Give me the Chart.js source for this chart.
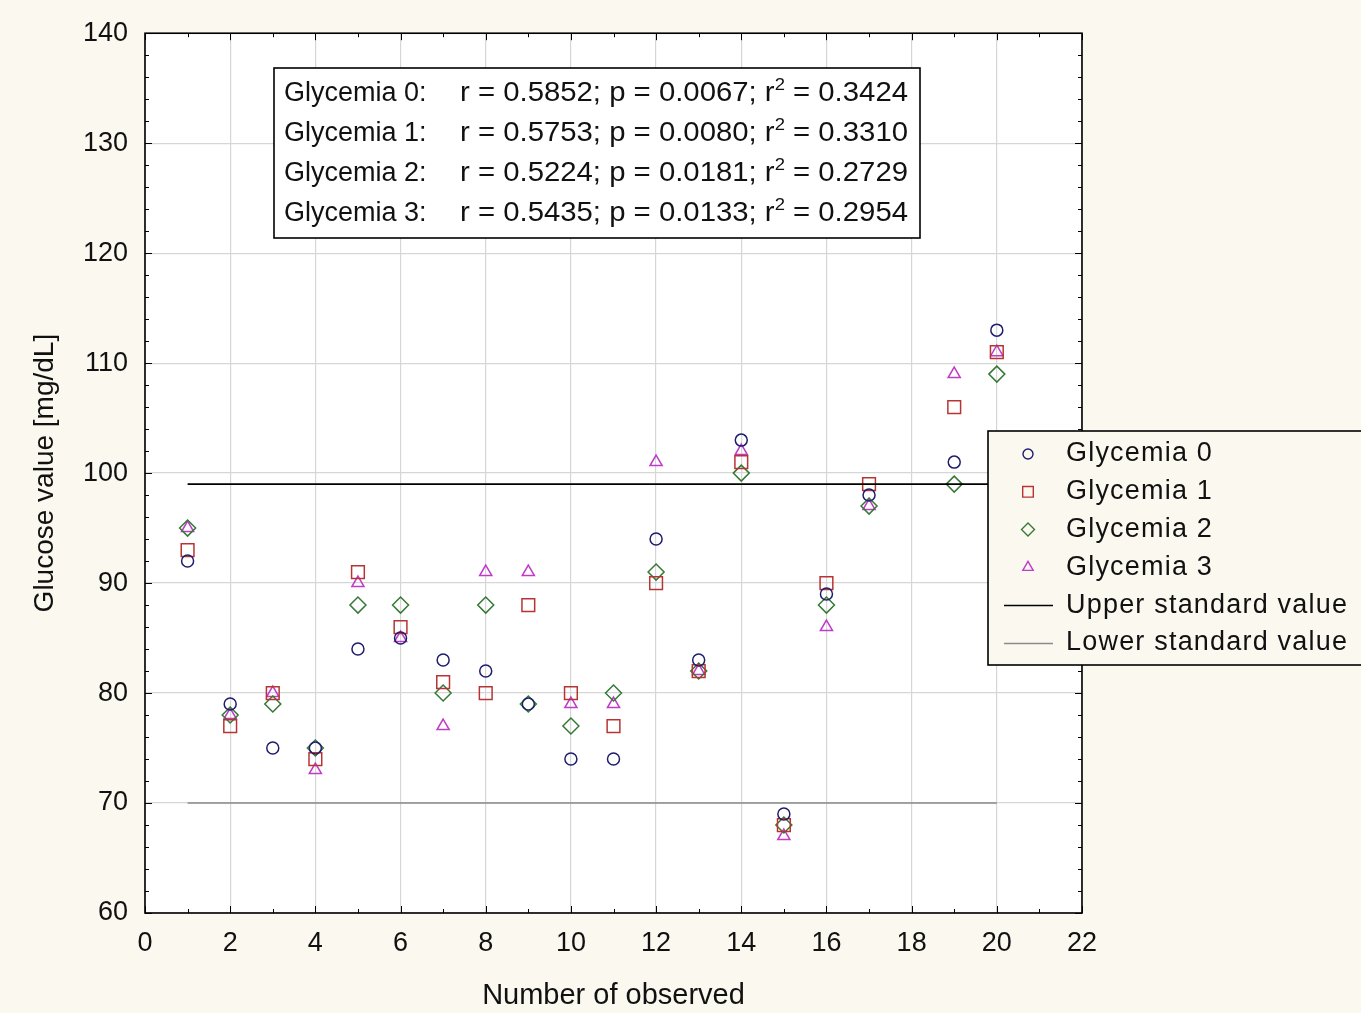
<!DOCTYPE html>
<html>
<head>
<meta charset="utf-8">
<script src="https://cdn.jsdelivr.net/npm/chart.js@4"></script>
<style>
  html, body { margin: 0; padding: 0; background: #fbf8f0; }
  #wrap { width: 1361px; height: 1013px; }
</style>
</head>
<body>
<div id="wrap"><canvas id="grafico" width="1361" height="1013"></canvas></div>
<script>
// observações (x) e valores de glicemia
const observacoes = [1, 2, 3, 4, 5, 6, 7, 8, 9, 10, 11, 12, 13, 14, 15, 16, 17, 19, 20];
const glicemia0 = [92, 79, 75, 75, 84, 85, 83, 82, 79, 74, 74, 94, 83, 103, 69, 89, 98, 101, 113];
const glicemia1 = [93, 77, 80, 74, 91, 86, 81, 80, 88, 80, 77, 90, 82, 101, 68, 90, 99, 106, 111];
const glicemia2 = [95, 78, 79, 75, 88, 88, 80, 88, 79, 77, 80, 91, 82, 100, 68, 88, 97, 99, 109];
const glicemia3 = [95, 78, 80, 73, 90, 85, 77, 91, 91, 79, 79, 101, 82, 102, 67, 86, 97, 109, 111];

// limites de referência
const limiteX = [1, 20];
const valorSuperior = 99;
const valorInferior = 70;

// estatísticas do quadro
const nomesSeries = ["Glycemia 0", "Glycemia 1", "Glycemia 2", "Glycemia 3"];
const valoresR = ["0.5852", "0.5753", "0.5224", "0.5435"];
const valoresP = ["0.0067", "0.0080", "0.0181", "0.0133"];
const valoresR2 = ["0.3424", "0.3310", "0.2729", "0.2954"];

const fonte = '"Liberation Sans", Arial, sans-serif';
const pontos = arr => observacoes.map((x, i) => ({ x: x, y: arr[i] }));
const linha = v => limiteX.map(x => ({ x: x, y: v }));

const estilos = [
  { cor: "#1e1e6e", forma: "circle", raio: 6, raioLegenda: 5 },
  { cor: "#b83434", forma: "rect", raio: 9, raioLegenda: 7.5 },
  { cor: "#347a34", forma: "rectRot", raio: 8, raioLegenda: 6.5 },
  { cor: "#c03cc8", forma: "triangle", raio: 7, raioLegenda: 6 }
];

const seriesValores = [glicemia0, glicemia1, glicemia2, glicemia3];
const datasets = seriesValores.map((arr, i) => ({
  label: nomesSeries[i],
  data: pontos(arr),
  showLine: false,
  pointStyle: estilos[i].forma,
  pointRadius: estilos[i].raio,
  pointBorderColor: estilos[i].cor,
  pointBackgroundColor: "rgba(255,255,255,0)",
  pointBorderWidth: 1.5,
  raioLegenda: estilos[i].raioLegenda
}));
datasets.unshift({
  label: "Upper standard value",
  data: linha(valorSuperior),
  showLine: true,
  borderColor: "#000000",
  borderWidth: 1.6,
  pointRadius: 0
}, {
  label: "Lower standard value",
  data: linha(valorInferior),
  showLine: true,
  borderColor: "#8a8a8a",
  borderWidth: 1.5,
  pointRadius: 0
});

const desenhoExtra = {
  id: "desenhoExtra",
  beforeDraw(chart) {
    const { ctx, chartArea: a } = chart;
    ctx.save();
    ctx.fillStyle = "#fbf8f0";
    ctx.fillRect(0, 0, chart.width, chart.height);
    ctx.fillStyle = "#ffffff";
    ctx.fillRect(a.left, a.top, a.right - a.left, a.bottom - a.top);
    ctx.restore();
  },
  afterDraw(chart) {
    const { ctx, chartArea: a } = chart;
    const sx = chart.scales.x, sy = chart.scales.y;
    ctx.save();
    // marcas internas dos eixos
    ctx.strokeStyle = "#000";
    ctx.lineWidth = 1;
    ctx.beginPath();
    for (let v = 0; v <= 22; v++) {
      const px = Math.round(sx.getPixelForValue(v)) + 0.5;
      const len = v % 2 === 0 ? 7 : 4;
      ctx.moveTo(px, a.bottom); ctx.lineTo(px, a.bottom - len);
      ctx.moveTo(px, a.top); ctx.lineTo(px, a.top + len);
    }
    for (let v = 60; v <= 140; v += 2) {
      const py = Math.round(sy.getPixelForValue(v)) + 0.5;
      const len = v % 10 === 0 ? 7 : 4;
      ctx.moveTo(a.left, py); ctx.lineTo(a.left + len, py);
      ctx.moveTo(a.right, py); ctx.lineTo(a.right - len, py);
    }
    ctx.stroke();
    ctx.lineWidth = 1.6;
    ctx.strokeRect(a.left, a.top, a.right - a.left, a.bottom - a.top);

    // quadro de estatísticas
    ctx.fillStyle = "#ffffff";
    ctx.fillRect(274, 68, 646, 170);
    ctx.lineWidth = 1.6;
    ctx.strokeStyle = "#000";
    ctx.strokeRect(274, 68, 646, 170);
    ctx.fillStyle = "#111";
    ctx.textBaseline = "middle";
    nomesSeries.forEach((nome, i) => {
      const y = 94 + i * 40;
      ctx.font = "27px " + fonte;
      ctx.textAlign = "left";
      ctx.fillText(nome + ":", 284, y, 155);
      const p1 = "r = " + valoresR[i] + "; p = " + valoresP[i] + "; r";
      const p2 = " = " + valoresR2[i];
      const w1 = ctx.measureText(p1).width;
      const w3 = ctx.measureText(p2).width;
      ctx.font = "17px " + fonte;
      const w2 = ctx.measureText("2").width;
      const escala = 448 / (w1 + w2 + w3);
      ctx.save();
      ctx.translate(460, y);
      ctx.scale(escala, 1);
      ctx.font = "27px " + fonte;
      ctx.fillText(p1, 0, 0);
      ctx.font = "17px " + fonte;
      ctx.fillText("2", w1, -9);
      ctx.font = "27px " + fonte;
      ctx.fillText(p2, w1 + w2, 0);
      ctx.restore();
    });

    // legenda
    ctx.fillStyle = "#fbf8f0";
    ctx.fillRect(988, 431, 380, 234);
    ctx.strokeStyle = "#000";
    ctx.lineWidth = 1.6;
    ctx.strokeRect(988, 431, 380, 234);
    const ordem = [2, 3, 4, 5, 0, 1];
    ordem.forEach((idx, k) => {
      const ds = chart.data.datasets[idx];
      const y = 454 + k * 37.8;
      if (ds.showLine) {
        ctx.strokeStyle = ds.borderColor;
        ctx.lineWidth = ds.borderWidth;
        ctx.beginPath();
        ctx.moveTo(1004, Math.round(y) + 0.5);
        ctx.lineTo(1053, Math.round(y) + 0.5);
        ctx.stroke();
      } else {
        ctx.strokeStyle = ds.pointBorderColor;
        ctx.fillStyle = "rgba(255,255,255,0)";
        ctx.lineWidth = 1.4;
        Chart.helpers.drawPoint(ctx, {
          pointStyle: ds.pointStyle,
          radius: ds.raioLegenda,
          rotation: 0,
          borderWidth: 1.4
        }, 1028, y);
      }
      ctx.fillStyle = "#111";
      ctx.font = "27px " + fonte;
      ctx.textAlign = "left";
      ctx.textBaseline = "middle";
      if ("letterSpacing" in ctx) ctx.letterSpacing = "1.2px";
      ctx.fillText(ds.label, 1066, y, 288);
      if ("letterSpacing" in ctx) ctx.letterSpacing = "0px";
    });
    ctx.restore();
  }
};

const ctx = document.getElementById("grafico").getContext("2d");
new Chart(ctx, {
  type: "scatter",
  data: { datasets: datasets },
  plugins: [desenhoExtra],
  options: {
    responsive: false,
    animation: false,
    layout: { padding: { top: 32, right: 279, bottom: 0, left: 0 } },
    plugins: {
      legend: { display: false },
      tooltip: { enabled: false }
    },
    scales: {
      x: {
        type: "linear",
        min: 0,
        max: 22,
        afterFit: s => { s.height = 100; },
        ticks: { stepSize: 2, padding: 14, color: "#111", font: { family: fonte, size: 27 } },
        grid: { color: "#d6d6d6", lineWidth: 1.2, drawTicks: false },
        border: { display: false },
        title: {
          display: true,
          text: "Number of observed",
          color: "#111",
          font: { family: fonte, size: 29 },
          padding: { top: 0, bottom: 0 }
        }
      },
      y: {
        min: 60,
        max: 140,
        afterFit: s => { s.width = 145; },
        ticks: { stepSize: 10, padding: 17, color: "#111", font: { family: fonte, size: 27 } },
        grid: { color: "#d6d6d6", lineWidth: 1.2, drawTicks: false },
        border: { display: false },
        title: {
          display: true,
          text: "Glucose value [mg/dL]",
          color: "#111",
          font: { family: fonte, size: 28 },
          padding: { top: 28, bottom: 0 }
        }
      }
    }
  }
});
</script>
</body>
</html>
